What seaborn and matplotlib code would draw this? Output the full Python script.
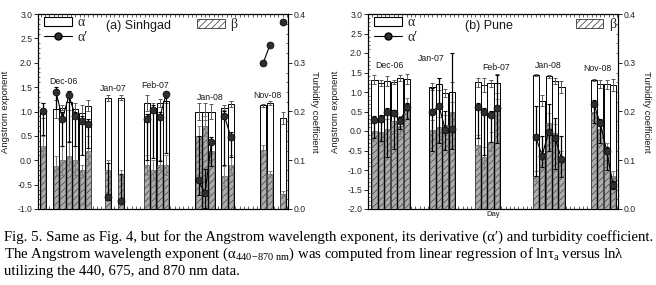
import numpy as np
import pandas as pd
import matplotlib
matplotlib.use("Agg")
import matplotlib.pyplot as plt
import seaborn as sns
from matplotlib.patches import Patch
from matplotlib.lines import Line2D
from matplotlib.ticker import MultipleLocator, FormatStrFormatter

sns.set_theme(style="ticks")
plt.rcParams['font.family'] = ['Liberation Sans', 'DejaVu Sans']
plt.rcParams['axes.edgecolor'] = 'black'
plt.rcParams['axes.linewidth'] = 0.8
plt.rcParams['hatch.linewidth'] = 0.5
plt.rcParams['mathtext.fontset'] = 'custom'
plt.rcParams['mathtext.rm'] = 'Liberation Serif'
plt.rcParams['mathtext.it'] = 'Liberation Serif:italic'

# ---------------- Panel (a) Sinhgad ----------------
days_a = [1, 3, 4, 5, 6, 7, 8, 11, 13, 17, 18, 19, 20, 25, 26, 27, 29, 30, 35, 36, 38]
seg_a = [0, 1, 1, 1, 1, 1, 1, 2, 3, 4, 4, 4, 4, 5, 5, 5, 6, 6, 7, 7, 8]
alpha_a = [1.02, 1.05, 1.08, 1.20, 1.05, 0.97, 1.12, 1.28, 1.28, 1.17, 1.08, 1.17, 1.22,
           1.00, 1.00, 1.00, 1.08, 1.15, 1.13, 1.18, 0.87]
alpha_err_a = [0.15, 0.19, 0.05, 0.16, 0.12, 0.16, 0.11, 0.06, 0.05, 0.16, 0.10, 0.08, 0.05,
               0.18, 0.18, 0.15, 0.05, 0.06, 0.03, 0.04, 0.12]
beta_a = [0.130, 0.088, 0.100, 0.109, 0.100, 0.080, 0.120, 0.080, 0.070, 0.090, 0.080, 0.090, 0.090,
          0.150, 0.170, 0.120, 0.068, 0.090, 0.121, 0.072, 0.031]
beta_err_a = [0.02, 0.02, 0.03, 0.03, 0.03, 0.01, 0.03, 0.02, 0.01, 0.02, 0.02, 0.01, 0.02,
              0.02, 0.02, 0.02, 0.02, 0.02, 0.01, 0.006, 0.005]
alphap_a = [1.02, 1.41, 0.85, 1.33, 0.90, 0.80, 0.75, -0.76, -0.83, 0.85, 1.04, 0.88, 1.35,
            -0.41, -0.68, 0.38, 0.91, 0.47, 2.00, 2.36, 2.84]
ap_lo_a = [0.50, 0.35, 0.55, 0.95, 0.60, 0.70, 0.50, 0.05, 0.05, 0.85, 1.00, 0.90, 1.20,
           0.30, 0.30, 0.50, 1.00, 0.40, 0.00, 0.00, 0.00]
ap_hi_a = [0.15, 0.10, 0.15, 0.10, 0.10, 0.10, 0.10, 0.70, 0.55, 0.10, 0.10, 0.10, 0.05,
           0.90, 0.50, 0.10, 0.10, 0.10, 0.00, 0.00, 0.00]
months_a = ["Dec-06", "Jan-07", "Feb-07", "Jan-08", "Nov-08"]
month_x_a = [4.2, 11.8, 18.3, 26.8, 35.6]
month_y_a = [1.61, 1.48, 1.54, 1.28, 1.32]

# ---------------- Panel (b) Pune ----------------
days_b = [1, 2, 3, 4, 5, 6, 10, 11, 12, 13, 17, 18, 19, 20, 26, 27, 28, 29, 30, 35, 36, 37, 38]
seg_b = [0] * 6 + [1] * 4 + [2] * 4 + [3] * 5 + [4] * 4
alpha_b = [1.32, 1.23, 1.28, 1.25, 1.35, 1.33, 1.14, 1.20, 0.97, 1.00, 1.25, 1.17, 1.22, 1.22,
           1.44, 0.78, 1.40, 1.28, 1.13, 1.30, 1.20, 1.20, 1.18]
alpha_err_b = [0.12, 0.08, 0.12, 0.05, 0.08, 0.12, 0.10, 0.15, 0.10, 0.25, 0.12, 0.18, 0.08, 0.25,
               0.02, 0.15, 0.03, 0.08, 0.15, 0.03, 0.10, 0.12, 0.15]
beta_b = [0.160, 0.158, 0.165, 0.180, 0.170, 0.208, 0.162, 0.169, 0.172, 0.200, 0.131, 0.107, 0.138, 0.205,
          0.068, 0.100, 0.177, 0.155, 0.100, 0.200, 0.165, 0.115, 0.067]
beta_err_b = [0.02, 0.02, 0.02, 0.02, 0.02, 0.02, 0.02, 0.02, 0.02, 0.02, 0.02, 0.02, 0.02, 0.02,
              0.01, 0.02, 0.02, 0.02, 0.02, 0.02, 0.02, 0.02, 0.01]
alphap_b = [0.28, 0.30, 0.48, 0.45, 0.25, 0.62, 0.50, 0.65, 0.02, 0.05, 0.62, 0.49, 0.41, 0.58,
            -0.15, -0.63, -0.02, -0.17, -0.72, 0.70, 0.20, -0.50, -1.38]
ap_lo_b = [0.45, 0.55, 1.15, 0.90, 0.20, 0.30, 1.00, 0.95, 0.50, 0.50, 0.80, 1.10, 0.70, 0.90,
           1.00, 0.30, 0.50, 0.80, 0.45, 0.50, 0.50, 0.50, 0.10]
ap_hi_b = [0.10, 0.10, 0.10, 0.10, 0.10, 0.10, 0.60, 0.70, 0.50, 1.95, 0.10, 0.10, 0.10, 0.85,
           0.80, 0.50, 0.70, 0.50, 0.60, 0.10, 0.10, 0.10, 0.10]
months_b = ["Dec-06", "Jan-07", "Feb-07", "Jan-08", "Nov-08"]
month_x_b = [3.3, 9.8, 19.8, 27.9, 35.5]
month_y_b = [1.69, 1.87, 1.64, 1.69, 1.59]

caption = [
    "Fig. 5. Same as Fig. 4, but for the Angstrom wavelength exponent, its derivative (\u03b1\u2032) and turbidity coefficient.",
    "The Angstrom wavelength exponent (\u03b1$_{\\mathrm{440\\!-\\!870\\ nm}}$) was computed from linear regression of ln\u03c4$_{\\mathrm{a}}$ versus ln\u03bb",
    "utilizing the 440, 675, and 870 nm data.",
]

W, H = 656, 285
fig = plt.figure(figsize=(W / 100, H / 100), dpi=100)
fig.patch.set_facecolor("white")


def panel(left_px, days, seg, alpha, alpha_err, beta, beta_err, ap, ap_lo, ap_hi,
          ylim, xlim, months, mx, my, title, title_x, beta_leg_x, show_day, ylab_x, rlab_x):
    rect = [left_px / W, (H - 209) / H, 250 / W, 195 / H]
    ax = fig.add_axes(rect)
    df = pd.DataFrame(dict(day=days, seg=seg, alpha=alpha, beta=beta, ap=ap))
    df["alpha_h"] = df["alpha"] - ylim[0]

    # alpha bars (left axis), drawn up from the bottom of the axis
    sns.barplot(data=df, x="day", y="alpha_h", native_scale=True, width=0.95, color="white",
                saturation=1, edgecolor="black", linewidth=0.7, errorbar=None,
                bottom=ylim[0], ax=ax)
    ax.errorbar(days, alpha, yerr=alpha_err, fmt="none", ecolor="0.35", elinewidth=0.7,
                capsize=1.6, capthick=0.7, zorder=3)
    ax.set_ylim(*ylim)
    ax.set_xlim(*xlim)

    # beta bars (right axis)
    ax2 = ax.twinx()
    sns.barplot(data=df, x="day", y="beta", native_scale=True, width=0.72, color="0.68",
                saturation=1, edgecolor="0.25", linewidth=0.4, hatch="/////", errorbar=None, ax=ax2)
    ax2.errorbar(days, beta, yerr=beta_err, fmt="none", ecolor="0.5", elinewidth=0.8,
                 capsize=1.6, capthick=0.7)
    ax2.set_ylim(0, 0.4)

    # alpha' line + markers (top layer, left scale)
    ax3 = ax.twinx()
    ax3.errorbar(days, ap, yerr=[ap_lo, ap_hi], fmt="none", ecolor="black", elinewidth=0.9,
                 capsize=1.4, capthick=0.8)
    sns.lineplot(data=df, x="day", y="ap", units="seg", estimator=None, color="black",
                 linewidth=0.8, marker="o", markersize=5.0, markerfacecolor="0.18",
                 markeredgecolor="black", markeredgewidth=0.5, ax=ax3, legend=False)
    ax3.set_ylim(*ylim)
    ax3.set_axis_off()
    ax.set_xlim(*xlim)

    # ticks
    ax.yaxis.set_major_locator(MultipleLocator(0.5))
    ax.yaxis.set_minor_locator(MultipleLocator(0.1))
    ax.yaxis.set_major_formatter(FormatStrFormatter("%.1f"))
    ax.tick_params(axis="y", which="major", direction="out", length=3, width=0.7,
                   labelsize=6.2, pad=1.2, labelcolor="0.15")
    ax.tick_params(axis="y", which="minor", direction="in", length=1.5, width=0.5)
    ax.xaxis.set_major_locator(MultipleLocator(2 / 3))
    ax.tick_params(axis="x", which="major", direction="in", top=True, bottom=True,
                   length=2, width=0.5, labelbottom=False)
    ax2.yaxis.set_major_locator(MultipleLocator(0.1))
    ax2.yaxis.set_minor_locator(MultipleLocator(0.02))
    ax2.yaxis.set_major_formatter(FormatStrFormatter("%.1f"))
    ax2.tick_params(axis="y", which="major", direction="out", length=3, width=0.7,
                    labelsize=6.2, pad=1.2, labelcolor="0.15")
    ax2.tick_params(axis="y", which="minor", direction="in", length=1.5, width=0.5)

    ax.set_ylabel("Angstrom exponent", fontsize=6.8, color="0.1")
    ax.yaxis.set_label_coords(ylab_x, 0.5)
    ax2.set_ylabel("Turbidity coefficient", fontsize=6.8, rotation=270, va="center", color="0.1")
    ax2.yaxis.set_label_coords(rlab_x, 0.5)
    if show_day:
        ax.set_xlabel("Day", fontsize=5.5, labelpad=1.5, color="0.1")
    else:
        ax.set_xlabel("")

    for name, x, y in zip(months, mx, my):
        ax3.text(x, y, name, ha="center", va="center", fontsize=6.3, color="0.1")
    ax3.text(title_x, 0.938, title, transform=ax3.transAxes, fontsize=9, va="center",
             ha="left", color="0.1")

    h_alpha = Patch(facecolor="white", edgecolor="black", linewidth=0.8, label="\u03b1")
    h_ap = Line2D([], [], color="black", lw=0.8, marker="o", markersize=5.0,
                  markerfacecolor="0.18", markeredgecolor="black", label="\u03b1\u2032")
    leg1 = ax3.legend(handles=[h_alpha, h_ap], loc="upper left", bbox_to_anchor=(0.02, 0.995),
                      frameon=False, prop={"family": "Liberation Serif", "size": 10},
                      handlelength=2.0, handleheight=0.6, handletextpad=0.4,
                      labelspacing=0.1, borderpad=0.1, borderaxespad=0)
    ax3.add_artist(leg1)
    h_beta = Patch(facecolor="white", edgecolor="0.2", linewidth=0.6, hatch="/////", label="\u03b2")
    ax3.legend(handles=[h_beta], loc="upper left", bbox_to_anchor=(beta_leg_x, 0.985),
               frameon=False, prop={"family": "Liberation Serif", "size": 10},
               handlelength=2.0, handleheight=0.6, handletextpad=0.4,
               borderpad=0.1, borderaxespad=0)
    return ax


panel(38, days_a, seg_a, alpha_a, alpha_err_a, beta_a, beta_err_a, alphap_a, ap_lo_a, ap_hi_a,
      (-1.0, 3.0), (0.228, 38.81), months_a, month_x_a, month_y_a, "(a) Sinhgad", 0.272, 0.63,
      False, -0.112, 1.108)
panel(368, days_b, seg_b, alpha_b, alpha_err_b, beta_b, beta_err_b, alphap_b, ap_lo_b, ap_hi_b,
      (-2.0, 3.0), (0.0, 38.76), months_b, month_x_b, month_y_b, "(b) Pune", 0.388, 0.825,
      True, -0.112, 1.114)

for line, yb in zip(caption, [241, 258, 275]):
    fig.text(4 / W, 1 - yb / H, line, family="Liberation Serif", fontsize=10.6,
             va="baseline", ha="left", color="black")

fig.savefig("out.png", dpi=100)
